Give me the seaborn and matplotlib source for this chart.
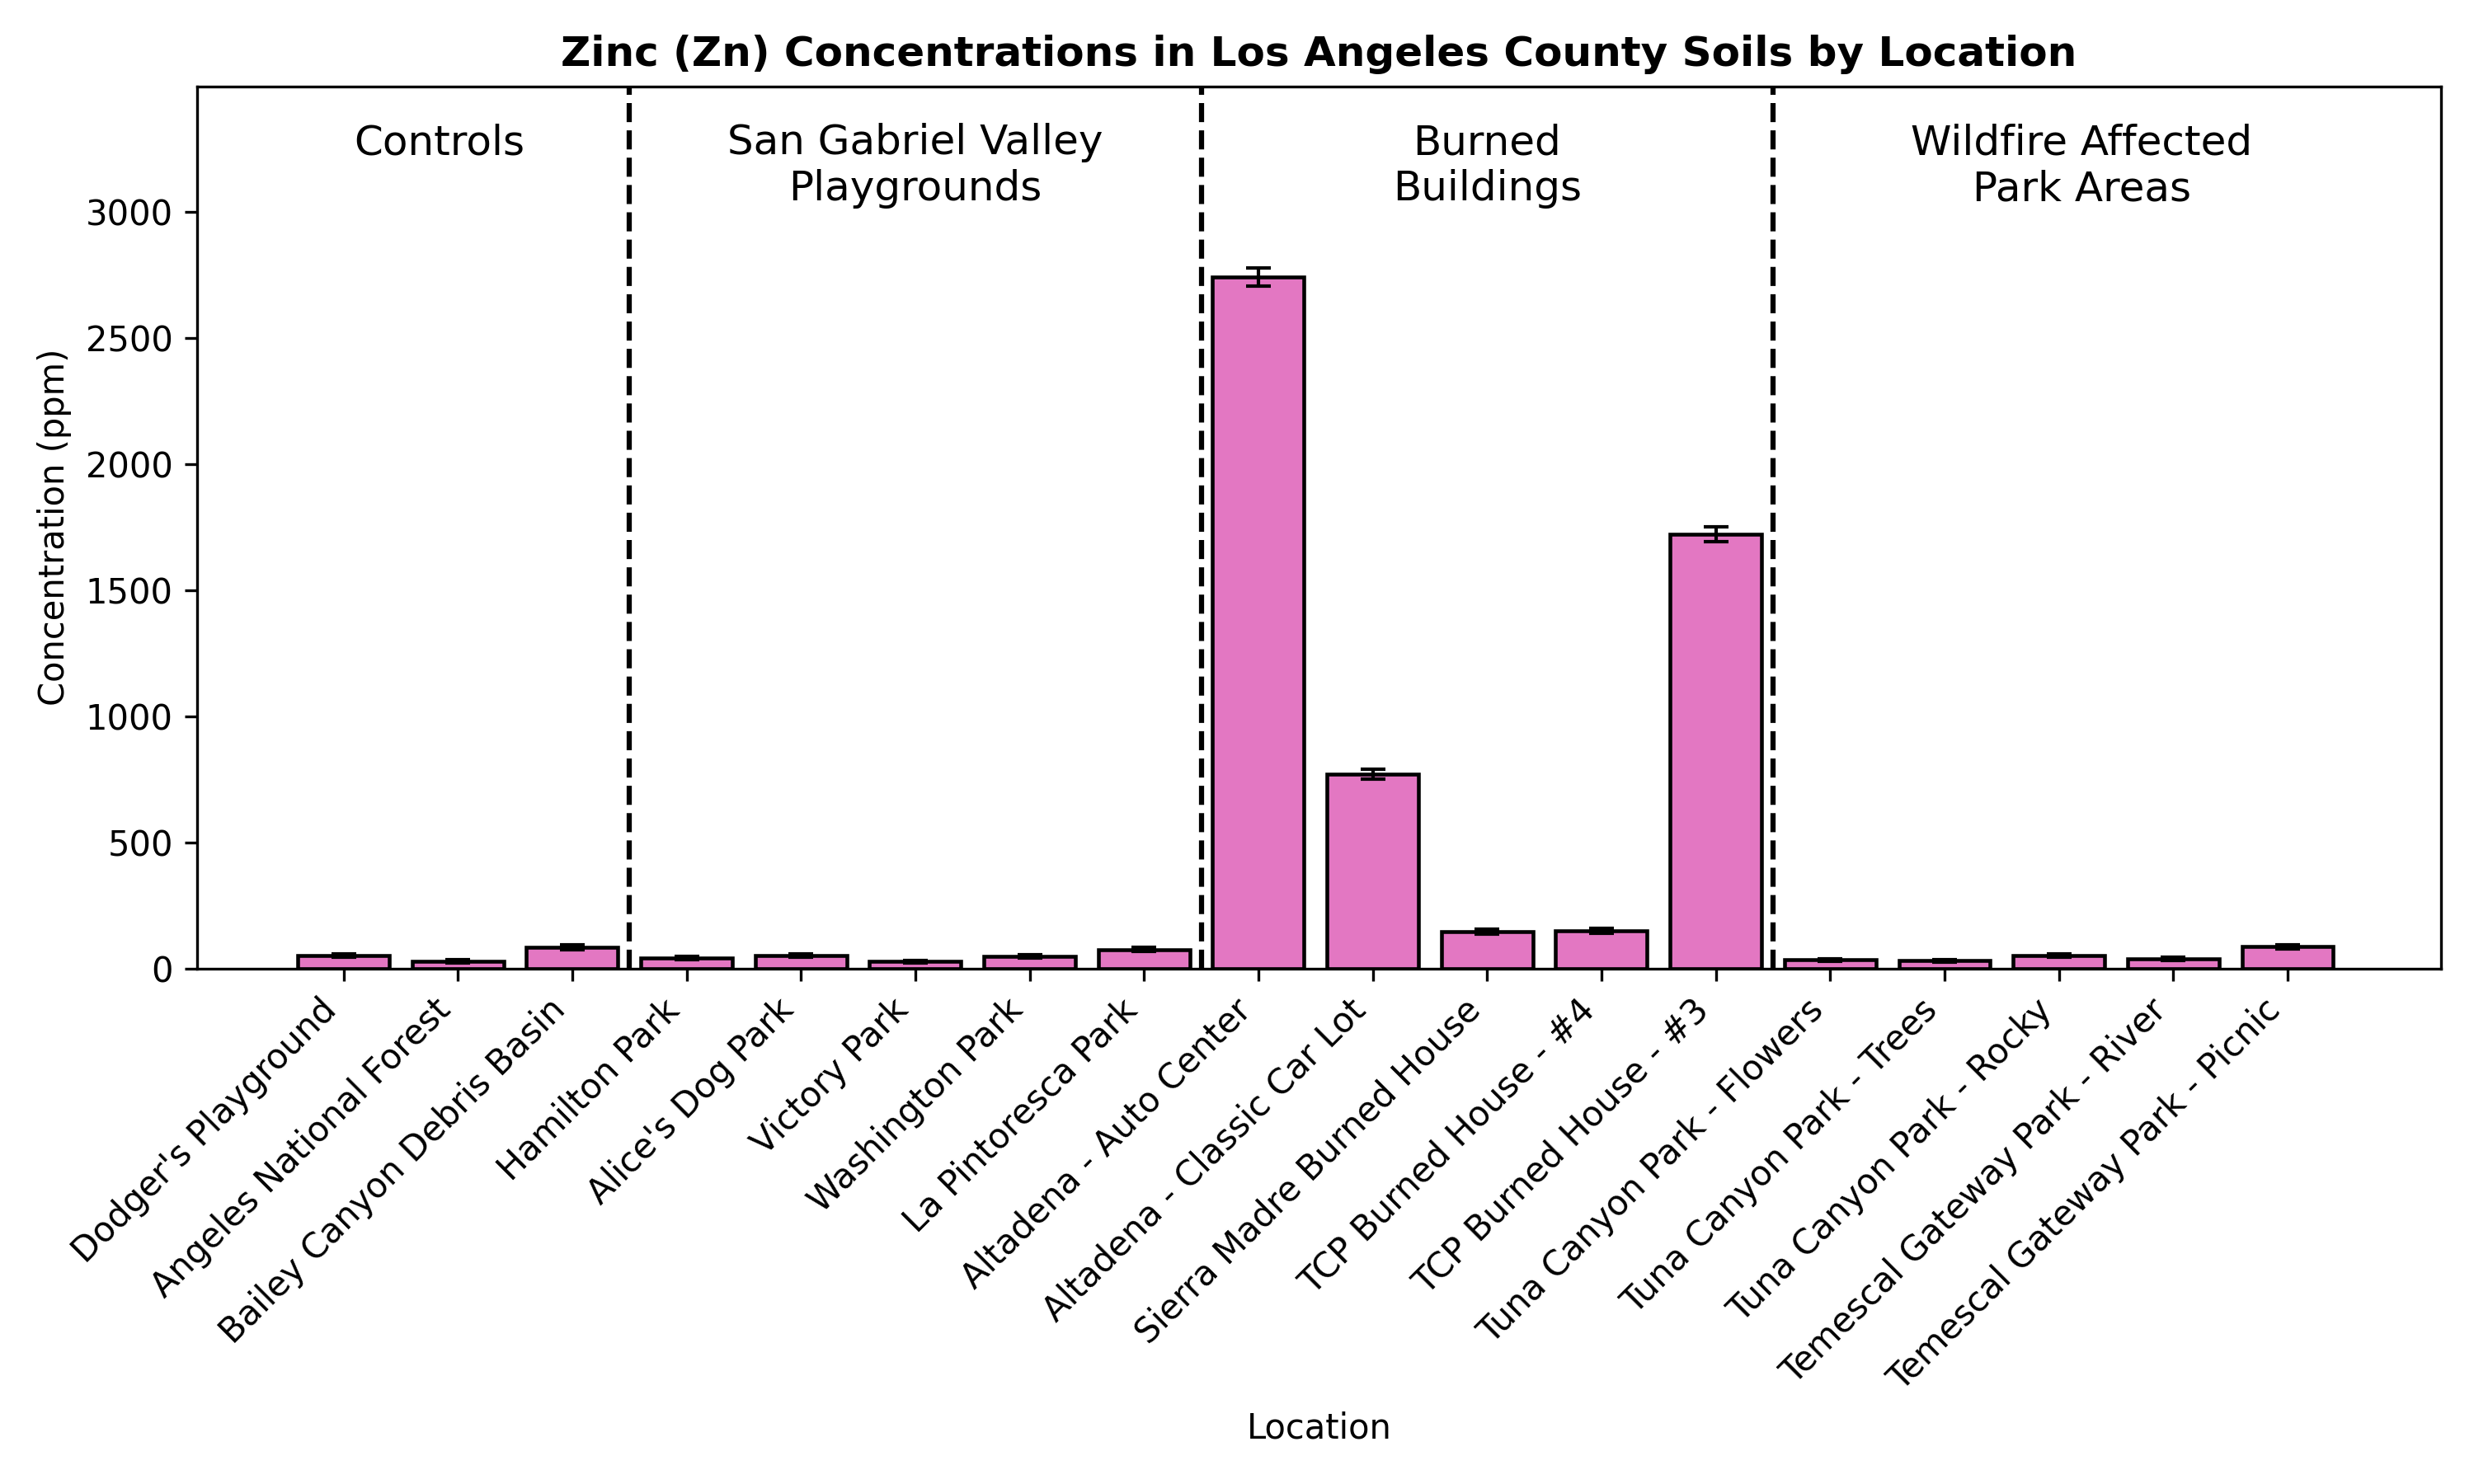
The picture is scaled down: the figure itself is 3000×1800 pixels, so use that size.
import matplotlib
matplotlib.use("Agg")
import matplotlib.pyplot as plt
import seaborn as sns
import pandas as pd
import numpy as np

locations = [
    "Dodger's Playground", "Angeles National Forest", "Bailey Canyon Debris Basin",
    "Hamilton Park", "Alice's Dog Park", "Victory Park", "Washington Park",
    "La Pintoresca Park", "Altadena - Auto Center", "Altadena - Classic Car Lot",
    "Sierra Madre Burned House", "TCP Burned House - #4", "TCP Burned House - #3",
    "Tuna Canyon Park - Flowers", "Tuna Canyon Park - Trees", "Tuna Canyon Park - Rocky",
    "Temescal Gateway Park - River", "Temescal Gateway Park - Picnic",
]
zinc_ppm = [50, 27, 83, 40, 50, 27, 47, 75, 2740, 770, 145, 150, 1720,
            34, 30, 50, 38, 86]
zinc_err = [7, 6, 9, 6, 7, 5, 6, 8, 35, 20, 10, 10, 30, 5, 4, 6, 6, 8]

group_names = ["Controls", "San Gabriel Valley\nPlaygrounds", "Burned\nBuildings",
               "Wildfire Affected\nPark Areas"]
group_text_x = [0.84, 5.0, 10.0, 15.2]
group_bounds = [2.5, 7.5, 12.5]

df = pd.DataFrame({"Location": locations, "Zn": zinc_ppm, "err": zinc_err})

fig, ax = plt.subplots(figsize=(10, 6), dpi=300)
fig.subplots_adjust(left=0.0797, right=0.9866, top=0.9416, bottom=0.3475)

sns.barplot(data=df, x="Location", y="Zn", color="#e377c2", saturation=1,
            edgecolor="black", linewidth=1.1, width=0.8, errorbar=None, ax=ax)
ax.errorbar(np.arange(len(locations)), df["Zn"], yerr=df["err"], fmt="none",
            ecolor="black", elinewidth=1.0, capsize=3.5, capthick=1.0)

for b in group_bounds:
    ax.axvline(b, color="black", linestyle="--", linewidth=1.5)
for gx, gname in zip(group_text_x, group_names):
    ax.text(gx, 3350, gname, ha="center", va="top", fontsize=12)

ax.set_xlim(-1.28, 18.34)
ax.set_ylim(0, 3495)
ax.set_title("Zinc (Zn) Concentrations in Los Angeles County Soils by Location",
             fontsize=12, fontweight="bold")
ax.set_xlabel("Location", fontsize=10)
ax.set_ylabel("Concentration (ppm)", fontsize=10)
ax.set_xticks(range(len(locations)))
ax.set_xticklabels(locations, rotation=45, ha="right", fontsize=10)
ax.tick_params(axis="y", labelsize=10)

fig.savefig("out.png", dpi=300)
